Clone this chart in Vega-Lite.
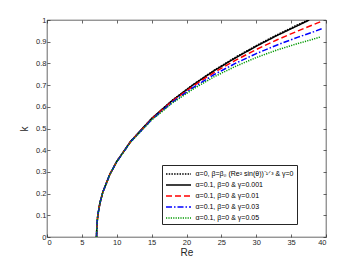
{
  "$schema": "https://vega.github.io/schema/vega-lite/v6.json",
  "width": 279,
  "height": 217,
  "autosize": {"type": "none"},
  "padding": {"left": 47, "top": 20, "right": 34, "bottom": 33},
  "background": "white",
  "config": {
    "font": "Liberation Sans",
    "view": {"stroke": "#262626", "strokeWidth": 0.7},
    "axis": {
      "grid": false,
      "domain": false,
      "tickColor": "#262626",
      "tickWidth": 0.7,
      "tickSize": -3,
      "labelColor": "#262626",
      "labelFontSize": 7.5,
      "labelFont": "Liberation Sans",
      "titleFont": "Liberation Sans",
      "titleFontWeight": "normal",
      "titleFontSize": 10,
      "titleColor": "#262626"
    }
  },
  "data": {
    "values": [
      {"s": "α=0, β=β₀ (Re² sin(θ))⁻¹ᐟ³ & γ=0", "Re": 7.1, "k": 0},
      {"s": "α=0, β=β₀ (Re² sin(θ))⁻¹ᐟ³ & γ=0", "Re": 7.15, "k": 0.056},
      {"s": "α=0, β=β₀ (Re² sin(θ))⁻¹ᐟ³ & γ=0", "Re": 7.3, "k": 0.104},
      {"s": "α=0, β=β₀ (Re² sin(θ))⁻¹ᐟ³ & γ=0", "Re": 7.6, "k": 0.158},
      {"s": "α=0, β=β₀ (Re² sin(θ))⁻¹ᐟ³ & γ=0", "Re": 8, "k": 0.206},
      {"s": "α=0, β=β₀ (Re² sin(θ))⁻¹ᐟ³ & γ=0", "Re": 9, "k": 0.288},
      {"s": "α=0, β=β₀ (Re² sin(θ))⁻¹ᐟ³ & γ=0", "Re": 10, "k": 0.348},
      {"s": "α=0, β=β₀ (Re² sin(θ))⁻¹ᐟ³ & γ=0", "Re": 12, "k": 0.441},
      {"s": "α=0, β=β₀ (Re² sin(θ))⁻¹ᐟ³ & γ=0", "Re": 15, "k": 0.546},
      {"s": "α=0, β=β₀ (Re² sin(θ))⁻¹ᐟ³ & γ=0", "Re": 18, "k": 0.631},
      {"s": "α=0, β=β₀ (Re² sin(θ))⁻¹ᐟ³ & γ=0", "Re": 21, "k": 0.704},
      {"s": "α=0, β=β₀ (Re² sin(θ))⁻¹ᐟ³ & γ=0", "Re": 24, "k": 0.769},
      {"s": "α=0, β=β₀ (Re² sin(θ))⁻¹ᐟ³ & γ=0", "Re": 27, "k": 0.828},
      {"s": "α=0, β=β₀ (Re² sin(θ))⁻¹ᐟ³ & γ=0", "Re": 30, "k": 0.882},
      {"s": "α=0, β=β₀ (Re² sin(θ))⁻¹ᐟ³ & γ=0", "Re": 33, "k": 0.932},
      {"s": "α=0, β=β₀ (Re² sin(θ))⁻¹ᐟ³ & γ=0", "Re": 36, "k": 0.979},
      {"s": "α=0, β=β₀ (Re² sin(θ))⁻¹ᐟ³ & γ=0", "Re": 37.45, "k": 1.0},
      {"s": "α=0.1, β=0 & γ=0.001", "Re": 7.1, "k": 0},
      {"s": "α=0.1, β=0 & γ=0.001", "Re": 7.15, "k": 0.056},
      {"s": "α=0.1, β=0 & γ=0.001", "Re": 7.3, "k": 0.104},
      {"s": "α=0.1, β=0 & γ=0.001", "Re": 7.6, "k": 0.158},
      {"s": "α=0.1, β=0 & γ=0.001", "Re": 8, "k": 0.206},
      {"s": "α=0.1, β=0 & γ=0.001", "Re": 9, "k": 0.288},
      {"s": "α=0.1, β=0 & γ=0.001", "Re": 10, "k": 0.348},
      {"s": "α=0.1, β=0 & γ=0.001", "Re": 12, "k": 0.441},
      {"s": "α=0.1, β=0 & γ=0.001", "Re": 15, "k": 0.546},
      {"s": "α=0.1, β=0 & γ=0.001", "Re": 18, "k": 0.63},
      {"s": "α=0.1, β=0 & γ=0.001", "Re": 21, "k": 0.702},
      {"s": "α=0.1, β=0 & γ=0.001", "Re": 24, "k": 0.767},
      {"s": "α=0.1, β=0 & γ=0.001", "Re": 27, "k": 0.825},
      {"s": "α=0.1, β=0 & γ=0.001", "Re": 30, "k": 0.879},
      {"s": "α=0.1, β=0 & γ=0.001", "Re": 33, "k": 0.929},
      {"s": "α=0.1, β=0 & γ=0.001", "Re": 36, "k": 0.975},
      {"s": "α=0.1, β=0 & γ=0.001", "Re": 37.6, "k": 1.0},
      {"s": "α=0.1, β=0 & γ=0.01", "Re": 7.1, "k": 0},
      {"s": "α=0.1, β=0 & γ=0.01", "Re": 7.15, "k": 0.056},
      {"s": "α=0.1, β=0 & γ=0.01", "Re": 7.3, "k": 0.104},
      {"s": "α=0.1, β=0 & γ=0.01", "Re": 7.6, "k": 0.158},
      {"s": "α=0.1, β=0 & γ=0.01", "Re": 8, "k": 0.206},
      {"s": "α=0.1, β=0 & γ=0.01", "Re": 9, "k": 0.288},
      {"s": "α=0.1, β=0 & γ=0.01", "Re": 10, "k": 0.348},
      {"s": "α=0.1, β=0 & γ=0.01", "Re": 12, "k": 0.44},
      {"s": "α=0.1, β=0 & γ=0.01", "Re": 15, "k": 0.544},
      {"s": "α=0.1, β=0 & γ=0.01", "Re": 18, "k": 0.627},
      {"s": "α=0.1, β=0 & γ=0.01", "Re": 21, "k": 0.697},
      {"s": "α=0.1, β=0 & γ=0.01", "Re": 24, "k": 0.759},
      {"s": "α=0.1, β=0 & γ=0.01", "Re": 27, "k": 0.814},
      {"s": "α=0.1, β=0 & γ=0.01", "Re": 30, "k": 0.864},
      {"s": "α=0.1, β=0 & γ=0.01", "Re": 33, "k": 0.909},
      {"s": "α=0.1, β=0 & γ=0.01", "Re": 36, "k": 0.95},
      {"s": "α=0.1, β=0 & γ=0.01", "Re": 38, "k": 0.976},
      {"s": "α=0.1, β=0 & γ=0.01", "Re": 39.5, "k": 0.996},
      {"s": "α=0.1, β=0 & γ=0.03", "Re": 7.1, "k": 0},
      {"s": "α=0.1, β=0 & γ=0.03", "Re": 7.15, "k": 0.056},
      {"s": "α=0.1, β=0 & γ=0.03", "Re": 7.3, "k": 0.104},
      {"s": "α=0.1, β=0 & γ=0.03", "Re": 7.6, "k": 0.158},
      {"s": "α=0.1, β=0 & γ=0.03", "Re": 8, "k": 0.206},
      {"s": "α=0.1, β=0 & γ=0.03", "Re": 9, "k": 0.288},
      {"s": "α=0.1, β=0 & γ=0.03", "Re": 10, "k": 0.347},
      {"s": "α=0.1, β=0 & γ=0.03", "Re": 12, "k": 0.439},
      {"s": "α=0.1, β=0 & γ=0.03", "Re": 15, "k": 0.541},
      {"s": "α=0.1, β=0 & γ=0.03", "Re": 18, "k": 0.622},
      {"s": "α=0.1, β=0 & γ=0.03", "Re": 21, "k": 0.69},
      {"s": "α=0.1, β=0 & γ=0.03", "Re": 24, "k": 0.749},
      {"s": "α=0.1, β=0 & γ=0.03", "Re": 27, "k": 0.8},
      {"s": "α=0.1, β=0 & γ=0.03", "Re": 30, "k": 0.845},
      {"s": "α=0.1, β=0 & γ=0.03", "Re": 33, "k": 0.885},
      {"s": "α=0.1, β=0 & γ=0.03", "Re": 36, "k": 0.921},
      {"s": "α=0.1, β=0 & γ=0.03", "Re": 38, "k": 0.943},
      {"s": "α=0.1, β=0 & γ=0.03", "Re": 39.5, "k": 0.961},
      {"s": "α=0.1, β=0 & γ=0.05", "Re": 7.1, "k": 0},
      {"s": "α=0.1, β=0 & γ=0.05", "Re": 7.15, "k": 0.056},
      {"s": "α=0.1, β=0 & γ=0.05", "Re": 7.3, "k": 0.104},
      {"s": "α=0.1, β=0 & γ=0.05", "Re": 7.6, "k": 0.158},
      {"s": "α=0.1, β=0 & γ=0.05", "Re": 8, "k": 0.206},
      {"s": "α=0.1, β=0 & γ=0.05", "Re": 9, "k": 0.287},
      {"s": "α=0.1, β=0 & γ=0.05", "Re": 10, "k": 0.347},
      {"s": "α=0.1, β=0 & γ=0.05", "Re": 12, "k": 0.438},
      {"s": "α=0.1, β=0 & γ=0.05", "Re": 15, "k": 0.539},
      {"s": "α=0.1, β=0 & γ=0.05", "Re": 18, "k": 0.618},
      {"s": "α=0.1, β=0 & γ=0.05", "Re": 21, "k": 0.683},
      {"s": "α=0.1, β=0 & γ=0.05", "Re": 24, "k": 0.739},
      {"s": "α=0.1, β=0 & γ=0.05", "Re": 27, "k": 0.786},
      {"s": "α=0.1, β=0 & γ=0.05", "Re": 30, "k": 0.827},
      {"s": "α=0.1, β=0 & γ=0.05", "Re": 33, "k": 0.862},
      {"s": "α=0.1, β=0 & γ=0.05", "Re": 36, "k": 0.892},
      {"s": "α=0.1, β=0 & γ=0.05", "Re": 38, "k": 0.91},
      {"s": "α=0.1, β=0 & γ=0.05", "Re": 39.2, "k": 0.922}
    ]
  },
  "layer": [
    {
      "mark": {"type": "line", "strokeWidth": 1.5, "clip": true},
      "encoding": {
        "x": {
          "field": "Re", "type": "quantitative",
          "scale": {"domain": [0, 40], "nice": false},
          "axis": {"title": "Re", "values": [0, 5, 10, 15, 20, 25, 30, 35, 40], "labelPadding": 4, "titlePadding": 2}
        },
        "y": {
          "field": "k", "type": "quantitative",
          "scale": {"domain": [0, 1], "nice": false},
          "axis": {"title": "k", "values": [0, 0.1, 0.2, 0.3, 0.4, 0.5, 0.6, 0.7, 0.8, 0.9, 1], "format": "~g", "labelPadding": 4, "titlePadding": 6}
        },
        "color": {
          "field": "s", "type": "nominal",
          "scale": {
            "domain": ["α=0, β=β₀ (Re² sin(θ))⁻¹ᐟ³ & γ=0", "α=0.1, β=0 & γ=0.001", "α=0.1, β=0 & γ=0.01", "α=0.1, β=0 & γ=0.03", "α=0.1, β=0 & γ=0.05"],
            "range": ["#000000", "#000000", "#ff0000", "#0000ff", "#009900"]
          },
          "legend": {
            "orient": "none", "legendX": 115, "legendY": 145, "title": null,
            "fillColor": "white", "strokeColor": "#262626", "padding": 3,
            "labelFontSize": 7, "labelLimit": 300, "labelOffset": 11, "labelColor": "#000000",
            "symbolType": "M-2.5,0H2.5", "symbolSize": 100, "symbolOffset": 7.5,
            "symbolStrokeWidth": 1.5, "rowPadding": 2
          }
        },
        "strokeDash": {
          "field": "s", "type": "nominal",
          "scale": {
            "domain": ["α=0, β=β₀ (Re² sin(θ))⁻¹ᐟ³ & γ=0", "α=0.1, β=0 & γ=0.001", "α=0.1, β=0 & γ=0.01", "α=0.1, β=0 & γ=0.03", "α=0.1, β=0 & γ=0.05"],
            "range": [[1.5, 1.2], [1, 0], [6, 3], [6, 2, 1.5, 2], [1.2, 1.2]]
          },
          "legend": {
            "orient": "none", "legendX": 115, "legendY": 145, "title": null,
            "fillColor": "white", "strokeColor": "#262626", "padding": 3,
            "labelFontSize": 7, "labelLimit": 300, "labelOffset": 11, "labelColor": "#000000",
            "symbolType": "M-2.5,0H2.5", "symbolSize": 100, "symbolOffset": 7.5,
            "symbolStrokeWidth": 1.5, "rowPadding": 2
          }
        }
      }
    },
    {
      "mark": {"type": "point", "opacity": 0},
      "encoding": {
        "x": {"field": "Re", "type": "quantitative", "axis": {"orient": "top", "labels": false, "title": null, "values": [0, 5, 10, 15, 20, 25, 30, 35, 40]}},
        "y": {"field": "k", "type": "quantitative", "axis": {"orient": "right", "labels": false, "title": null, "values": [0, 0.1, 0.2, 0.3, 0.4, 0.5, 0.6, 0.7, 0.8, 0.9, 1]}}
      }
    }
  ],
  "resolve": {"axis": {"x": "independent", "y": "independent"}}
}
